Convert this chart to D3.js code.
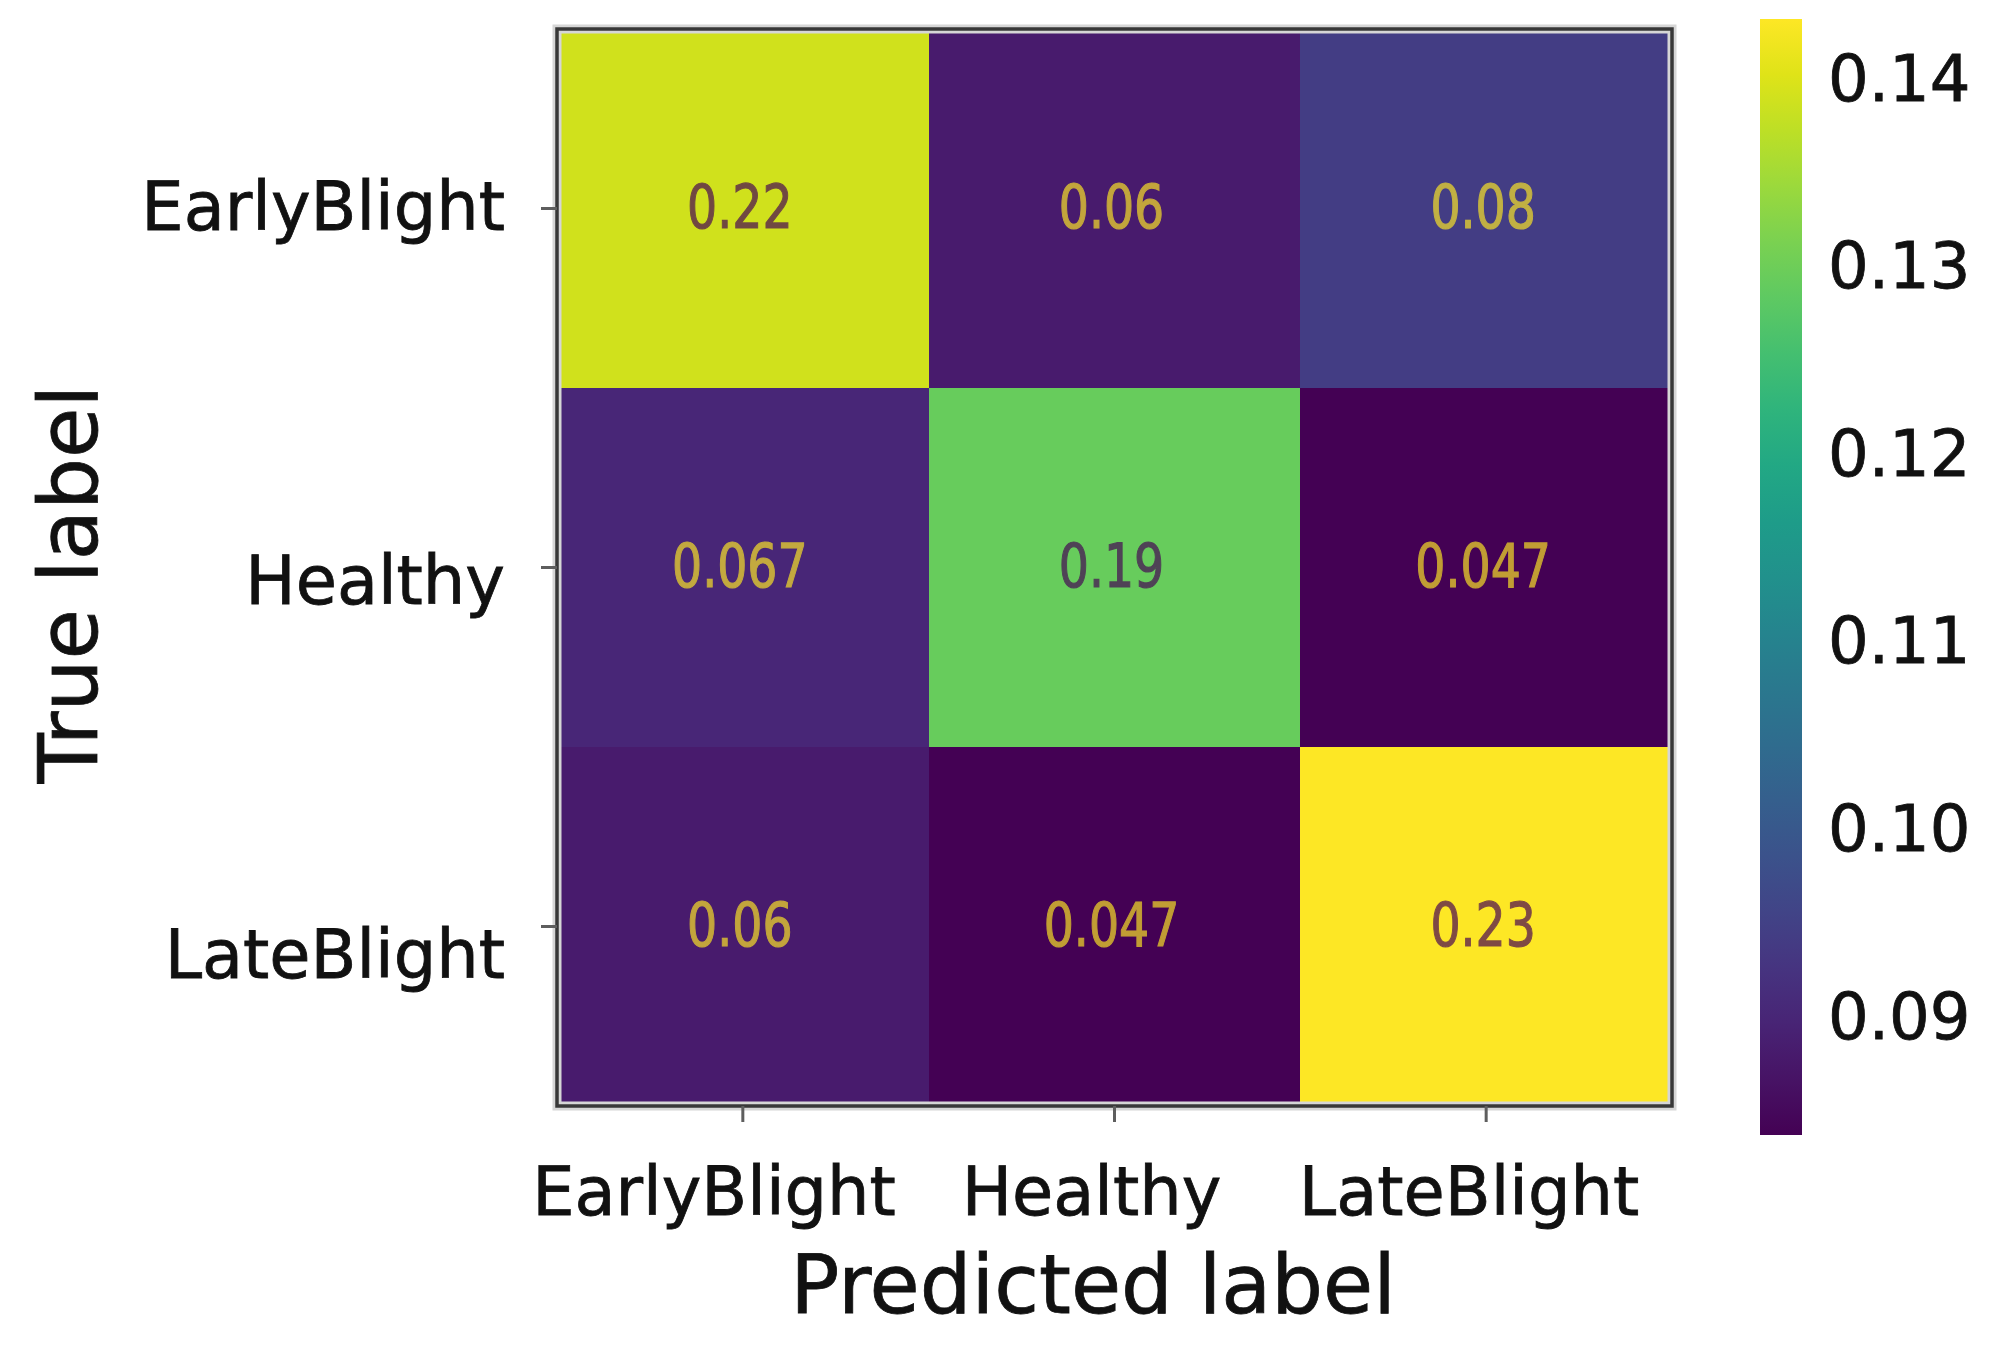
<!DOCTYPE html>
<html>
<head>
<meta charset="utf-8">
<script src="https://cdn.jsdelivr.net/npm/d3@7"></script>
<style>
  html, body { margin: 0; padding: 0; background: #ffffff; }
  svg { display: block; font-family: "DejaVu Sans", "Liberation Sans", sans-serif; }
</style>
</head>
<body>
<svg id="chart" width="1997" height="1350"></svg>
<script>
// ---------------- data ----------------
const predictedClasses = ["EarlyBlight", "Healthy", "LateBlight"];
const trueClasses = ["EarlyBlight", "Healthy", "LateBlight"];
const rowEarlyBlight = [0.22, 0.06, 0.08];
const rowHealthy = [0.0667, 0.19, 0.0467];
const rowLateBlight = [0.06, 0.0467, 0.2333];
const colorbarTicks = [0.09, 0.10, 0.11, 0.12, 0.13, 0.14];
const colorbarDomain = [0.0836, 0.1431];
const xTitle = "Predicted label";
const yTitle = "True label";

// ---------------- layout ----------------
const plot = { left: 557, right: 1672, top: 29, bottom: 1106 };
const cbar = { x: 1760, w: 42, top: 19, bottom: 1135 };

const svg = d3.select("#chart");
const rows = [rowEarlyBlight, rowHealthy, rowLateBlight];
const cells = [];
rows.forEach((r, i) => r.forEach((v, j) => cells.push({ t: trueClasses[i], p: predictedClasses[j], v })));

const x = d3.scaleBand().domain(predictedClasses).range([plot.left, plot.right]);
const y = d3.scaleBand().domain(trueClasses).range([plot.top, plot.bottom]);
const vals = cells.map(d => d.v);
const color = d3.scaleSequential(d3.interpolateViridis).domain(d3.extent(vals));
const thresh = (d3.min(vals) + d3.max(vals)) / 2;
const fmt = d3.format(".2~g");

// label placement scales (tick labels in the picture sit slightly off the ticks)
const xLab = d3.scalePoint().domain(predictedClasses).range([714, 1469]);
const yLab = d3.scalePoint().domain(trueClasses).range([206, 954]);

// ---------------- cells ----------------
svg.append("g").selectAll("rect").data(cells).join("rect")
  .attr("x", d => x(d.p))
  .attr("y", d => y(d.t))
  .attr("width", x.bandwidth())
  .attr("height", y.bandwidth())
  .attr("fill", d => color(d.v))
  .attr("shape-rendering", "crispEdges");

// frame
svg.append("rect")
  .attr("x", plot.left).attr("y", plot.top)
  .attr("width", plot.right - plot.left).attr("height", plot.bottom - plot.top)
  .attr("fill", "none").attr("stroke", "#d6d6d6").attr("stroke-width", 9);
svg.append("rect")
  .attr("x", plot.left).attr("y", plot.top)
  .attr("width", plot.right - plot.left).attr("height", plot.bottom - plot.top)
  .attr("fill", "none").attr("stroke", "#383838").attr("stroke-width", 3.5);

// annotations
svg.append("g").selectAll("g").data(cells).join("g")
  .attr("transform", d => `translate(${x(d.p) + x.bandwidth() / 2 - 3},${y(d.t) + y.bandwidth() / 2 + 19}) scale(0.79,1)`)
  .append("text")
  .attr("text-anchor", "middle")
  .attr("font-size", 60)
  .attr("fill", d => d.v > thresh ? "#440154" : "#fde725")
  .attr("stroke", d => d.v > thresh ? "#440154" : "#fde725")
  .attr("stroke-width", 1.2)
  .attr("opacity", 0.68)
  .text(d => fmt(d.v));

// ---------------- ticks ----------------
svg.append("g").selectAll("line").data(predictedClasses).join("line")
  .attr("x1", d => x(d) + x.bandwidth() / 2).attr("x2", d => x(d) + x.bandwidth() / 2)
  .attr("y1", plot.bottom).attr("y2", plot.bottom + 16)
  .attr("stroke", "#5e5e5e").attr("stroke-width", 3);
svg.append("g").selectAll("line").data(trueClasses).join("line")
  .attr("y1", d => y(d) + y.bandwidth() / 2).attr("y2", d => y(d) + y.bandwidth() / 2)
  .attr("x1", plot.left - 16).attr("x2", plot.left)
  .attr("stroke", "#5e5e5e").attr("stroke-width", 3);

// tick labels
svg.append("g").selectAll("text").data(predictedClasses).join("text")
  .attr("x", d => xLab(d)).attr("y", 1215)
  .attr("text-anchor", "middle").attr("font-size", 67).attr("fill", "#111")
  .attr("stroke", "#111").attr("stroke-width", 0.8)
  .text(d => d);
svg.append("g").selectAll("text").data(trueClasses).join("text")
  .attr("x", 505).attr("y", d => yLab(d) + 24)
  .attr("text-anchor", "end").attr("font-size", 67).attr("fill", "#111")
  .attr("stroke", "#111").attr("stroke-width", 0.8)
  .text(d => d);

// axis titles
svg.append("text")
  .attr("x", 1093).attr("y", 1313)
  .attr("text-anchor", "middle").attr("font-size", 81.5).attr("fill", "#111")
  .attr("stroke", "#111").attr("stroke-width", 0.8)
  .text(xTitle);
svg.append("text")
  .attr("transform", "translate(97,584) rotate(-90)")
  .attr("text-anchor", "middle").attr("font-size", 82).attr("fill", "#111")
  .attr("stroke", "#111").attr("stroke-width", 0.8)
  .text(yTitle);

// ---------------- colorbar ----------------
const cb = d3.scaleLinear().domain(colorbarDomain).range([cbar.bottom, cbar.top]);
const grad = svg.append("defs").append("linearGradient")
  .attr("id", "cbgrad").attr("x1", 0).attr("y1", 1).attr("x2", 0).attr("y2", 0);
d3.range(0, 1.0001, 0.05).forEach(t => {
  grad.append("stop").attr("offset", t).attr("stop-color", d3.interpolateViridis(t));
});
svg.append("rect")
  .attr("x", cbar.x).attr("y", cbar.top)
  .attr("width", cbar.w).attr("height", cbar.bottom - cbar.top)
  .attr("fill", "url(#cbgrad)");

const cbAxis = svg.append("g")
  .attr("transform", `translate(${cbar.x + cbar.w},0)`)
  .call(d3.axisRight(cb).tickValues(colorbarTicks).tickFormat(d3.format(".2f")).tickSize(0).tickPadding(26));
cbAxis.select(".domain").remove();
cbAxis.selectAll("text")
  .attr("font-size", 64).attr("font-family", "DejaVu Sans, sans-serif")
  .attr("fill", "#111").attr("stroke", "#111").attr("stroke-width", 0.8)
  .attr("dy", "0.36em");
</script>
</body>
</html>
